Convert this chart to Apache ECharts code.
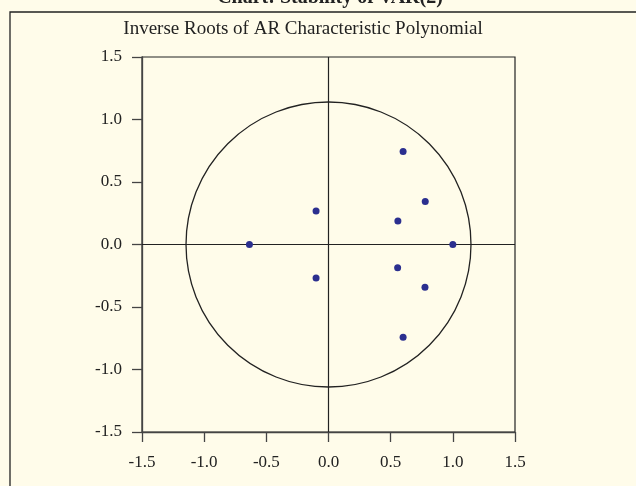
<!DOCTYPE html>
<html>
<head>
<meta charset="utf-8">
<script src="https://cdn.jsdelivr.net/npm/echarts@6/dist/echarts.min.js"></script>
<style>
    html, body {margin: 0; padding: 0; background: #fffcea;}
    #chart {width: 636px; height: 486px;}
</style>
</head>
<body>
<div id="chart"></div>
<script>
const rootsRe = [0.60, 0.778, -0.10, 0.558, -0.636, 1.0, 0.556, -0.10, 0.776, 0.60];
const rootsIm = [0.744, 0.345, 0.269, 0.189, 0.0, 0.0, -0.185, -0.268, -0.342, -0.742];
const circleRadius = 1.143;
const axisTicks = [-1.5, -1.0, -0.5, 0.0, 0.5, 1.0, 1.5];

const font = '"Liberation Serif", "DejaVu Serif", serif';
const ink = '#222';

const chart = echarts.init(document.getElementById('chart'));

const valueAxis = (pos) => ({
    type: 'value',
    position: pos,
    min: axisTicks[0],
    max: axisTicks[axisTicks.length - 1],
    interval: 0.5,
    axisLine: {show: true, onZero: false, lineStyle: {color: '#444', width: 1.3}},
    axisTick: {show: true, inside: false, length: 10, lineStyle: {color: '#444', width: 1.3}},
    splitLine: {show: false},
    axisLabel: {
        margin: pos === 'bottom' ? 22 : 20,
        fontFamily: font,
        fontSize: 17,
        color: ink,
        formatter: v => v.toFixed(1),
    },
});

chart.setOption({
    backgroundColor: '#fffcea',
    animation: false,
    grid: {
        left: 142, top: 57, width: 373, height: 375,
        show: true,
        borderColor: ink,
        borderWidth: 1.2,
        backgroundColor: 'transparent',
    },
    graphic: [
        {
            type: 'rect',
            shape: {x: 10, y: 12, width: 700, height: 600},
            style: {fill: 'none', stroke: ink, lineWidth: 1.3},
            silent: true,
        },
        {
            type: 'text',
            x: 330, y: 8,
            style: {
                text: 'Chart: Stability of VAR(2)',
                font: `bold 20px ${font}`,
                fill: ink,
                align: 'center',
                verticalAlign: 'bottom',
            },
        },
        {
            type: 'text',
            x: 303, y: 29,
            style: {
                text: 'Inverse Roots of AR Characteristic Polynomial',
                font: `19px ${font}`,
                fill: ink,
                align: 'center',
                verticalAlign: 'middle',
            },
        },
    ],
    xAxis: valueAxis('bottom'),
    yAxis: valueAxis('left'),
    series: [
        {
            type: 'custom',
            silent: true,
            data: [[0, 0, circleRadius]],
            renderItem: (params, api) => {
                const c = api.coord([api.value(0), api.value(1)]);
                const s = api.size([api.value(2), api.value(2)]);
                return {
                    type: 'circle',
                    shape: {cx: c[0], cy: c[1], r: (s[0] + s[1]) / 2},
                    style: {fill: 'none', stroke: ink, lineWidth: 1.3},
                };
            },
            z: 2,
        },
        {
            type: 'scatter',
            data: rootsRe.map((x, i) => [x, rootsIm[i]]),
            symbol: 'circle',
            symbolSize: 7,
            itemStyle: {color: '#2b2f8f', opacity: 1},
            markLine: {
                silent: true,
                symbol: 'none',
                label: {show: false},
                lineStyle: {color: ink, type: 'solid', width: 1.2},
                data: [{xAxis: 0}, {yAxis: 0}],
                z: 1,
            },
            z: 3,
        },
    ],
});
</script>
</body>
</html>
